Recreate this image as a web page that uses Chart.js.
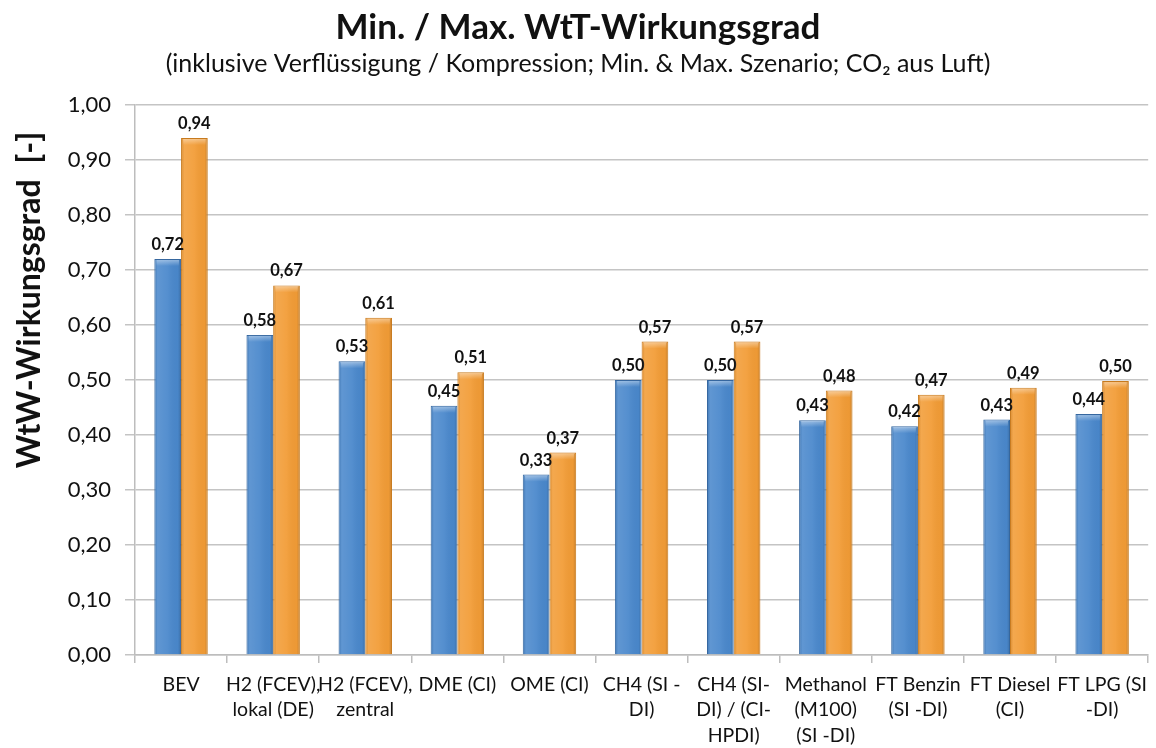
<!DOCTYPE html>
<html>
<head>
<meta charset="utf-8">
<script src="https://cdn.jsdelivr.net/npm/chart.js@4"></script>
<style>
  html, body { margin: 0; padding: 0; background: #fff; }
  #wrap { width: 1156px; height: 748px; }
</style>
</head>
<body>
<div id="wrap"><canvas id="chart" width="1156" height="748"></canvas></div>
<script>
// categories (multi-line labels as in the original)
const categories = [
  ['BEV'],
  ['H2 (FCEV),', 'lokal (DE)'],
  ['H2 (FCEV),', 'zentral'],
  ['DME (CI)'],
  ['OME (CI)'],
  ['CH4 (SI -', 'DI)'],
  ['CH4 (SI-', 'DI) / (CI-', 'HPDI)'],
  ['Methanol', '(M100)', '(SI -DI)'],
  ['FT Benzin', '(SI -DI)'],
  ['FT Diesel', '(CI)'],
  ['FT LPG (SI', '-DI)']
];

// min / max scenario values
const minValues = [0.72, 0.582, 0.534, 0.453, 0.328, 0.50, 0.50, 0.427, 0.416, 0.428, 0.438];
const maxValues = [0.94, 0.672, 0.613, 0.514, 0.368, 0.57, 0.57, 0.481, 0.473, 0.486, 0.498];

const yTicks = [0, 0.1, 0.2, 0.3, 0.4, 0.5, 0.6, 0.7, 0.8, 0.9, 1.0];

const FONT = 'Lato, "Open Sans", sans-serif';
const fmt = v => v.toFixed(2).replace('.', ',');

// shading + value labels on top of each bar
const barDecor = {
  id: 'barDecor',
  afterDatasetsDraw(chart) {
    const ctx = chart.ctx;
    chart.data.datasets.forEach((ds, di) => {
      const meta = chart.getDatasetMeta(di);
      meta.data.forEach((bar, i) => {
        const { x, y, base, width } = bar.getProps(['x', 'y', 'base', 'width'], true);
        const left = x - width / 2;
        const g = ctx.createLinearGradient(left, 0, left + width, 0);
        g.addColorStop(0, 'rgba(0,0,0,0.10)');
        g.addColorStop(0.12, 'rgba(255,255,255,0.12)');
        g.addColorStop(0.5, 'rgba(255,255,255,0.06)');
        g.addColorStop(0.88, 'rgba(0,0,0,0.02)');
        g.addColorStop(1, 'rgba(0,0,0,0.18)');
        ctx.save();
        ctx.fillStyle = g;
        ctx.fillRect(left + 1, y + 1, width - 2, base - y - 1);
        // small bevel on top
        const tg = ctx.createLinearGradient(0, y, 0, y + 7);
        tg.addColorStop(0, 'rgba(255,255,255,0.45)');
        tg.addColorStop(1, 'rgba(255,255,255,0)');
        ctx.fillStyle = tg;
        ctx.fillRect(left + 2, y + 1, width - 4, 7);
        ctx.restore();

        ctx.save();
        ctx.font = 'bold 16.5px ' + FONT;
        ctx.fillStyle = '#111';
        ctx.textAlign = 'center';
        ctx.textBaseline = 'bottom';
        ctx.fillText(fmt(ds.data[i]), x, y - 6);
        ctx.restore();
      });
    });
  }
};

// y-axis title, placed like in the original (not centered on the axis)
const yTitle = {
  id: 'yTitle',
  afterDraw(chart) {
    const ctx = chart.ctx;
    ctx.save();
    ctx.translate(30, 300);
    ctx.rotate(-Math.PI / 2);
    ctx.font = 'bold 32px ' + FONT;
    ctx.fillStyle = '#111';
    ctx.textAlign = 'center';
    ctx.textBaseline = 'middle';
    ctx.fillText('WtW-Wirkungsgrad  [-]', 0, 0);
    ctx.restore();
  }
};

new Chart(document.getElementById('chart'), {
  type: 'bar',
  data: {
    labels: categories,
    datasets: [
      {
        label: 'Min.',
        data: minValues,
        backgroundColor: '#4a88cc',
        borderColor: '#36679f',
        borderWidth: 1,
        categoryPercentage: 0.58,
        barPercentage: 1.0
      },
      {
        label: 'Max.',
        data: maxValues,
        backgroundColor: '#f29c36',
        borderColor: '#c77a1e',
        borderWidth: 1,
        categoryPercentage: 0.58,
        barPercentage: 1.0
      }
    ]
  },
  options: {
    responsive: false,
    animation: false,
    layout: { padding: { left: 0, right: 0, top: 0, bottom: 0 } },
    plugins: {
      legend: { display: false },
      tooltip: { enabled: false },
      title: {
        display: true,
        text: 'Min. / Max. WtT-Wirkungsgrad',
        color: '#111',
        font: { family: FONT, size: 35, weight: 'bold', lineHeight: 1.2 },
        padding: { top: 7, bottom: 0 }
      },
      subtitle: {
        display: true,
        text: '(inklusive Verflüssigung / Kompression; Min. & Max. Szenario; CO\u2082 aus Luft)',
        color: '#111',
        font: { family: FONT, size: 25, lineHeight: 1.2 },
        padding: { top: 0, bottom: 26 }
      }
    },
    scales: {
      x: {
        offset: true,
        grid: {
          display: true,
          offset: true,
          drawOnChartArea: false,
          drawTicks: true,
          tickLength: 8,
          color: '#bdbdbd',
          lineWidth: 1.5
        },
        border: { display: true, color: '#bdbdbd', width: 1.5 },
        ticks: {
          color: '#111',
          font: { family: FONT, size: 19.5, lineHeight: 1.3 },
          padding: 9,
          maxRotation: 0,
          autoSkip: false
        },
        afterFit(scale) { scale.height = 93; }
      },
      y: {
        min: 0,
        max: 1,
        afterBuildTicks(scale) { scale.ticks = yTicks.map(v => ({ value: v })); },
        grid: {
          color: '#c4c4c4',
          lineWidth: 1.5,
          tickLength: 10
        },
        border: { display: true, color: '#bdbdbd', width: 1.5 },
        ticks: {
          color: '#111',
          font: { family: FONT, size: 22 },
          padding: 14,
          callback: v => fmt(v)
        },
        afterFit(scale) { scale.width = 135; }
      }
    }
  },
  plugins: [barDecor, yTitle]
});
</script>
</body>
</html>
